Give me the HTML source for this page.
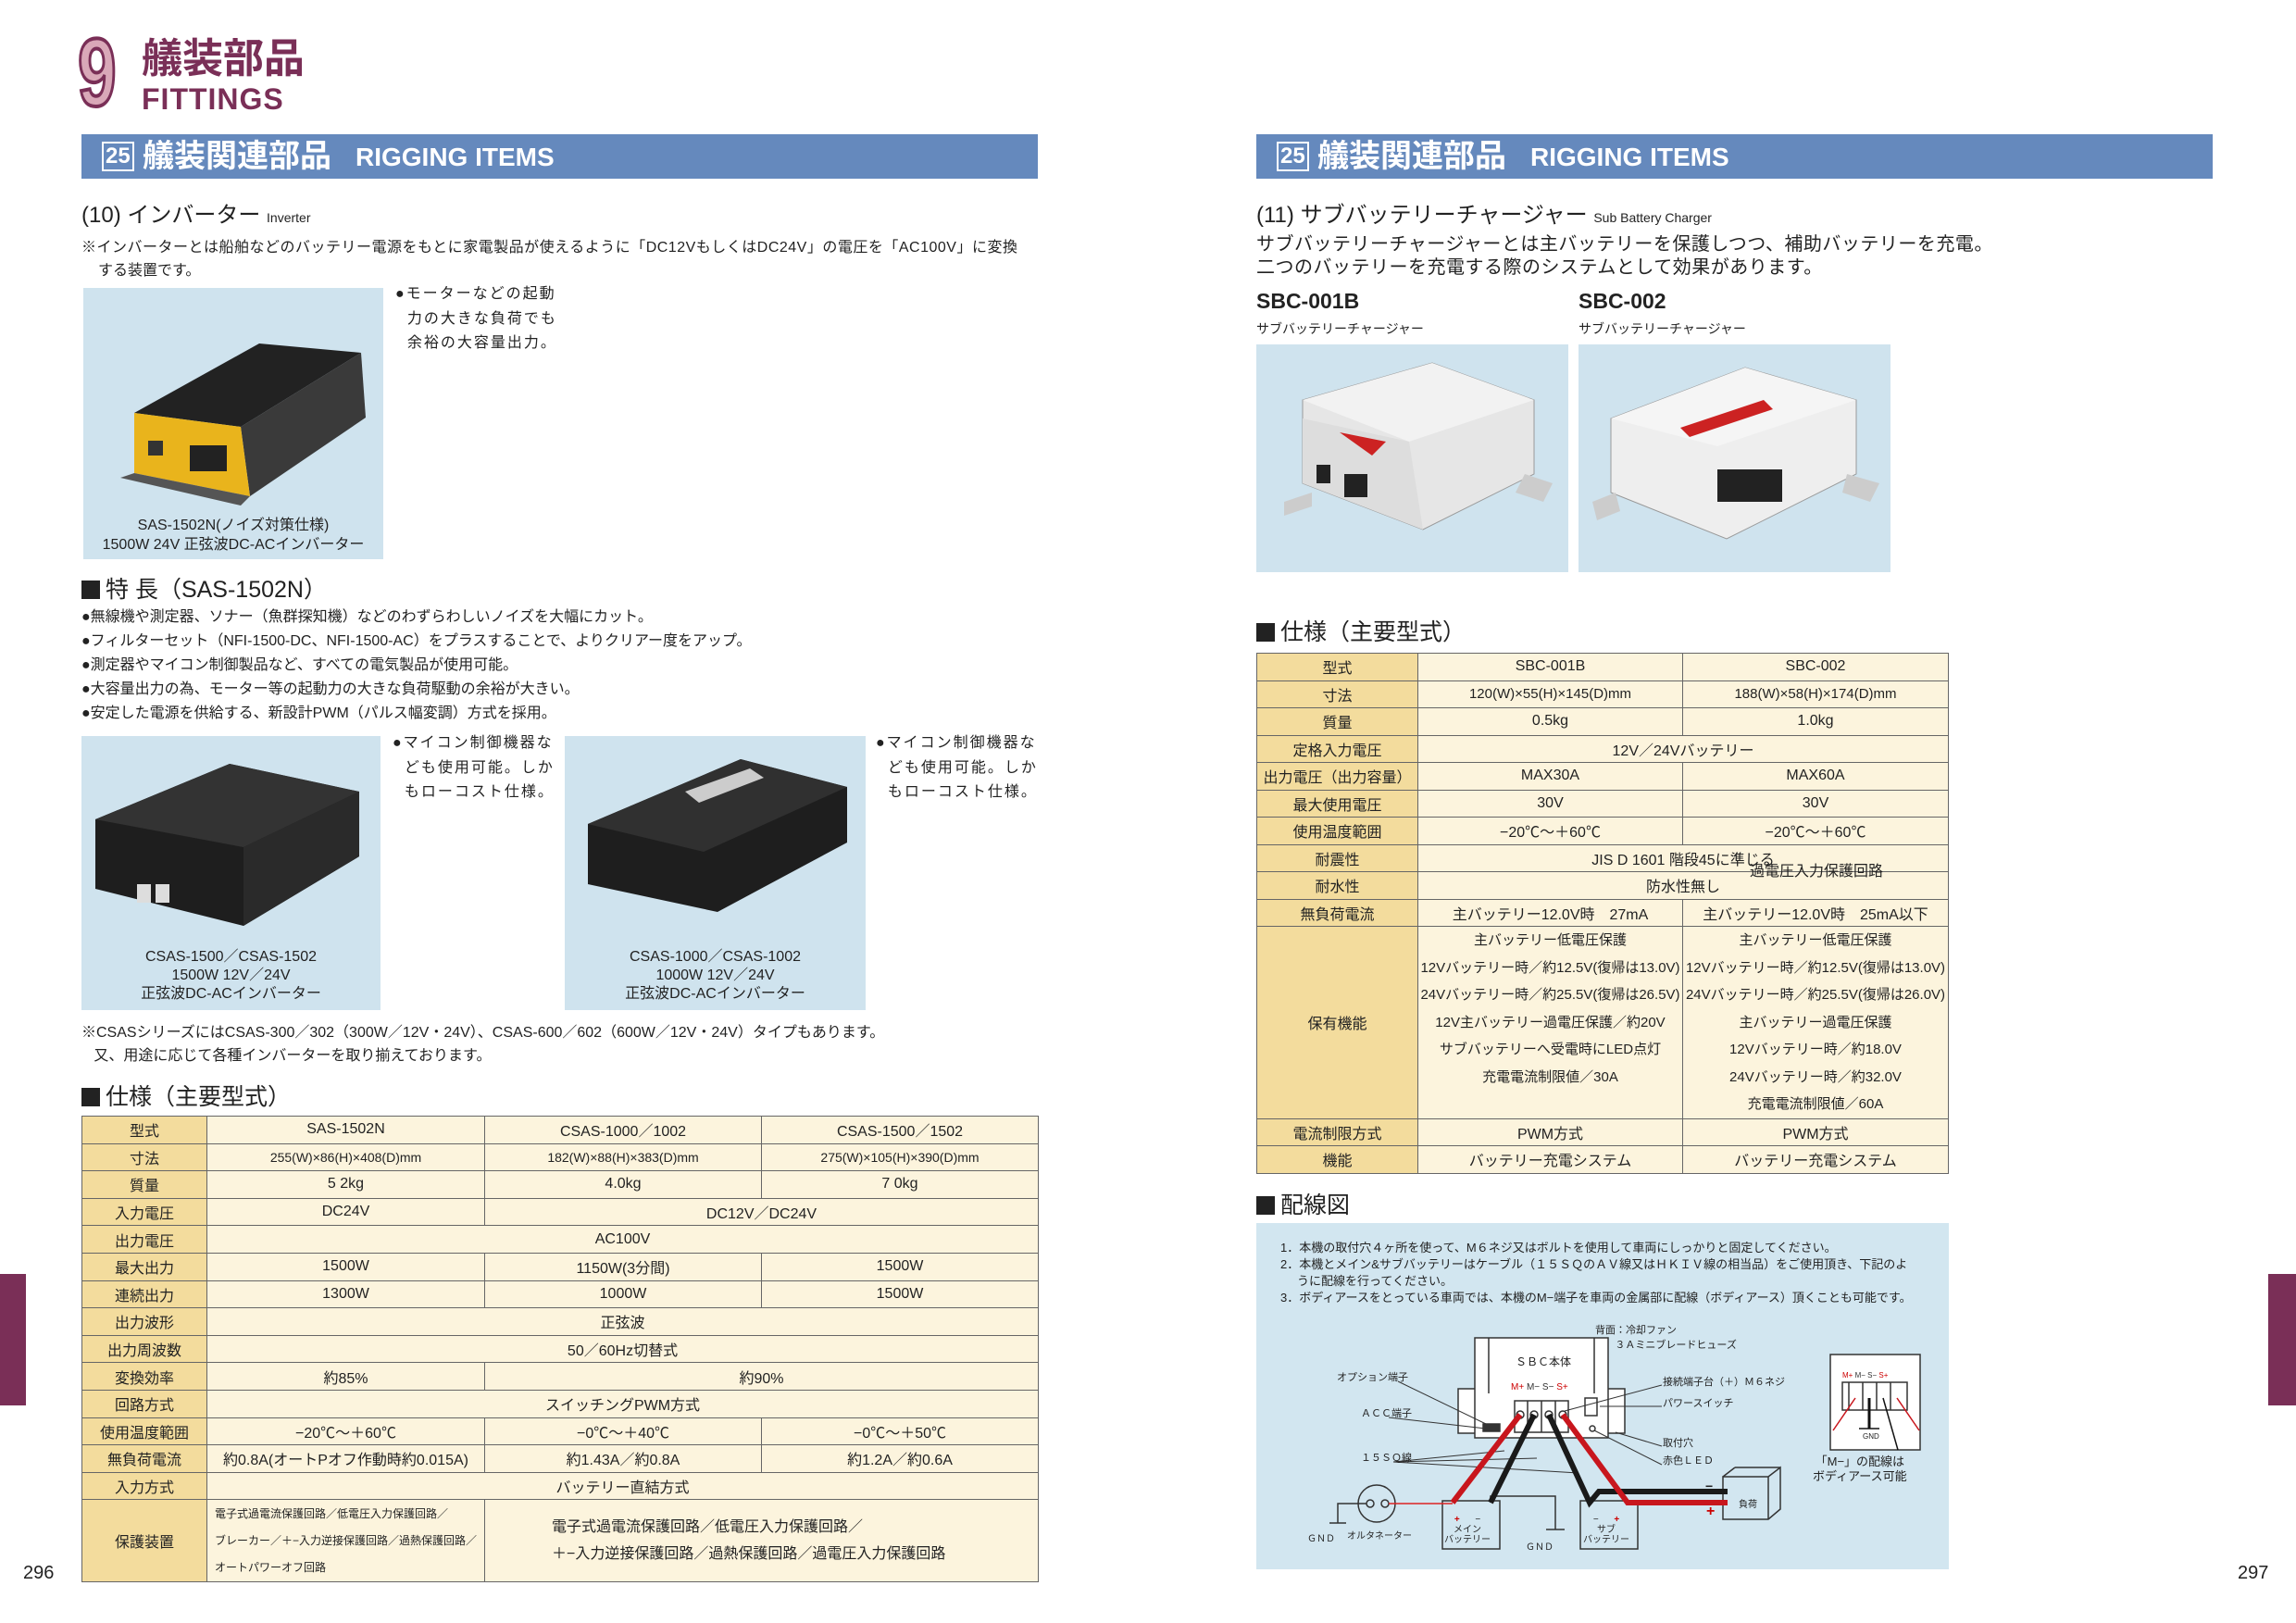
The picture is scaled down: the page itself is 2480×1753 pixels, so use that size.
<!DOCTYPE html>
<html><head><meta charset="utf-8">
<style>
*{margin:0;padding:0;box-sizing:border-box}
body{width:2480px;height:1753px;background:#fff;position:relative;overflow:hidden;font-family:"Liberation Sans","Noto Sans CJK JP",sans-serif;color:#222}
.a{position:absolute;white-space:nowrap}
.bar{position:absolute;top:145px;height:48px;background:#6589bd;color:#fff;font-weight:bold}
.bar .n{position:absolute;left:22px;top:8px;border:2px solid #fff;font-size:24px;line-height:28px;padding:0 2px}
.bar .t{position:absolute;left:66px;top:2px;font-size:34px;line-height:44px}
.bar .e{position:absolute;left:296px;top:6px;font-size:28px;line-height:38px}
.img{position:absolute;background:#cfe3ee}
table{position:absolute;border-collapse:collapse;table-layout:fixed}
td{border:1px solid #666;background:#fcf4dd;text-align:center;font-size:16px;padding:0;overflow:hidden;white-space:nowrap}
td.h{background:#f3dc9d}
.sq{display:inline-block;width:20px;height:20px;background:#222;margin-right:6px;vertical-align:-2px}
</style></head><body>

<div class="a" style="left:84px;top:24px;font-size:104px;font-weight:bold;color:#d9a8b8;-webkit-text-stroke:4px #7a2f57;line-height:110px;transform:scaleX(0.72);transform-origin:left">9</div>
<div class="a" style="left:153px;top:38px;font-size:44px;font-weight:bold;color:#7a2f57;line-height:52px">艤装部品</div>
<div class="a" style="left:153px;top:88px;font-size:32px;font-weight:bold;color:#7a2f57;line-height:38px;letter-spacing:1px">FITTINGS</div>

<div class="bar" style="left:88px;width:1033px"><span class="n">25</span><span class="t">艤装関連部品</span><span class="e">RIGGING ITEMS</span></div>
<div class="bar" style="left:1357px;width:1033px"><span class="n">25</span><span class="t">艤装関連部品</span><span class="e">RIGGING ITEMS</span></div>

<div class="a" style="left:88px;top:218px;font-size:24px;line-height:30px">(10) インバーター <span style="font-size:14px">Inverter</span></div>
<div class="a" style="left:88px;top:256px;font-size:16px;line-height:24px;letter-spacing:0.5px">※インバーターとは船舶などのバッテリー電源をもとに家電製品が使えるように「DC12VもしくはDC24V」の電圧を「AC100V」に変換</div>
<div class="a" style="left:106px;top:281px;font-size:16px;line-height:24px">する装置です。</div>

<div class="img" style="left:90px;top:311px;width:324px;height:293px">
<svg width="324" height="293" style="position:absolute;left:0;top:0">
<polygon points="55,135 190,60 300,70 170,150" fill="#222"/>
<polygon points="300,70 305,140 180,225 170,150" fill="#3a3a3a"/>
<polygon points="55,135 170,150 180,225 55,200" fill="#e9b41c"/>
<rect x="70" y="165" width="16" height="16" fill="#333"/><rect x="115" y="170" width="40" height="28" fill="#222"/>
<polygon points="40,205 55,200 180,225 170,235" fill="#555"/>
</svg>
<div class="a" style="left:0;width:324px;text-align:center;top:246px;font-size:16px;line-height:21px">SAS-1502N(ノイズ対策仕様)<br>1500W 24V 正弦波DC-ACインバーター</div>
</div>
<div class="a" style="left:427px;top:305px;font-size:16px;line-height:26.5px;letter-spacing:2px">●モーターなどの起動<br>&nbsp;&nbsp;力の大きな負荷でも<br>&nbsp;&nbsp;余裕の大容量出力。</div>

<div class="a" style="left:88px;top:621px;font-size:25px;line-height:32px"><span class="sq"></span>特 長（SAS-1502N）</div>
<div class="a" style="left:88px;top:654px;font-size:16px;line-height:26px">●無線機や測定器、ソナー（魚群探知機）などのわずらわしいノイズを大幅にカット。<br>●フィルターセット（NFI-1500-DC、NFI-1500-AC）をプラスすることで、よりクリアー度をアップ。<br>●測定器やマイコン制御製品など、すべての電気製品が使用可能。<br>●大容量出力の為、モーター等の起動力の大きな負荷駆動の余裕が大きい。<br>●安定した電源を供給する、新設計PWM（パルス幅変調）方式を採用。</div>

<div class="img" style="left:88px;top:795px;width:323px;height:296px">
<svg width="323" height="296" style="position:absolute;left:0;top:0">
<polygon points="15,90 160,30 300,60 300,130 175,205 15,165" fill="#1e1e1e"/>
<polygon points="15,90 160,30 300,60 175,120" fill="#333"/>
<polygon points="175,120 300,60 300,130 175,205" fill="#2a2a2a"/>
<rect x="60" y="160" width="15" height="20" fill="#ddd"/><rect x="80" y="160" width="15" height="20" fill="#ddd"/>
</svg>
<div class="a" style="left:0;width:323px;text-align:center;top:229px;font-size:16px;line-height:20px">CSAS-1500／CSAS-1502<br>1500W 12V／24V<br>正弦波DC-ACインバーター</div>
</div>
<div class="a" style="left:424px;top:790px;font-size:16px;line-height:26.5px;letter-spacing:2px">●マイコン制御機器な<br>&nbsp;&nbsp;ども使用可能。しか<br>&nbsp;&nbsp;もローコスト仕様。</div>

<div class="img" style="left:610px;top:795px;width:325px;height:296px">
<svg width="325" height="296" style="position:absolute;left:0;top:0">
<polygon points="25,95 190,25 305,55 305,115 165,190 25,160" fill="#1e1e1e"/>
<polygon points="25,95 190,25 305,55 150,125" fill="#303030"/>
<polygon points="130,60 200,35 215,45 145,72" fill="#ccc"/>
</svg>
<div class="a" style="left:0;width:325px;text-align:center;top:229px;font-size:16px;line-height:20px">CSAS-1000／CSAS-1002<br>1000W 12V／24V<br>正弦波DC-ACインバーター</div>
</div>
<div class="a" style="left:946px;top:790px;font-size:16px;line-height:26.5px;letter-spacing:2px">●マイコン制御機器な<br>&nbsp;&nbsp;ども使用可能。しか<br>&nbsp;&nbsp;もローコスト仕様。</div>

<div class="a" style="left:88px;top:1103px;font-size:16px;line-height:25px">※CSASシリーズにはCSAS-300／302（300W／12V・24V）、CSAS-600／602（600W／12V・24V）タイプもあります。<br>&nbsp;&nbsp;&nbsp;又、用途に応じて各種インバーターを取り揃えております。</div>

<div class="a" style="left:88px;top:1169px;font-size:25px;line-height:32px"><span class="sq"></span>仕様（主要型式）</div>

<table style="left:88px;top:1205px;width:1033px">
<colgroup><col style="width:135px"><col style="width:300px"><col style="width:299px"><col style="width:299px"></colgroup>
<tr style="height:29.6px"><td class="h">型式</td><td>SAS-1502N</td><td>CSAS-1000／1002</td><td>CSAS-1500／1502</td></tr>
<tr style="height:29.6px"><td class="h">寸法</td><td style="font-size:14px">255(W)×86(H)×408(D)mm</td><td style="font-size:14px">182(W)×88(H)×383(D)mm</td><td style="font-size:14px">275(W)×105(H)×390(D)mm</td></tr>
<tr style="height:29.6px"><td class="h">質量</td><td>5 2kg</td><td>4.0kg</td><td>7 0kg</td></tr>
<tr style="height:29.6px"><td class="h">入力電圧</td><td>DC24V</td><td colspan="2">DC12V／DC24V</td></tr>
<tr style="height:29.6px"><td class="h">出力電圧</td><td colspan="3">AC100V</td></tr>
<tr style="height:29.6px"><td class="h">最大出力</td><td>1500W</td><td>1150W(3分間)</td><td>1500W</td></tr>
<tr style="height:29.6px"><td class="h">連続出力</td><td>1300W</td><td>1000W</td><td>1500W</td></tr>
<tr style="height:29.6px"><td class="h">出力波形</td><td colspan="3">正弦波</td></tr>
<tr style="height:29.6px"><td class="h">出力周波数</td><td colspan="3">50／60Hz切替式</td></tr>
<tr style="height:29.6px"><td class="h">変換効率</td><td>約85%</td><td colspan="2">約90%</td></tr>
<tr style="height:29.6px"><td class="h">回路方式</td><td colspan="3">スイッチングPWM方式</td></tr>
<tr style="height:29.6px"><td class="h">使用温度範囲</td><td>−20℃～＋60℃</td><td>−0℃～＋40℃</td><td>−0℃～＋50℃</td></tr>
<tr style="height:29.6px"><td class="h">無負荷電流</td><td>約0.8A(オートPオフ作動時約0.015A)</td><td>約1.43A／約0.8A</td><td>約1.2A／約0.6A</td></tr>
<tr style="height:29.6px"><td class="h">入力方式</td><td colspan="3">バッテリー直結方式</td></tr>
<tr style="height:89px"><td class="h">保護装置</td><td style="text-align:left;font-size:12px;line-height:29px;padding-left:8px">電子式過電流保護回路／低電圧入力保護回路／<br>ブレーカー／＋−入力逆接保護回路／過熱保護回路／<br>オートパワーオフ回路</td><td colspan="2" style="text-align:left;font-size:16px;line-height:29px;padding-left:72px">電子式過電流保護回路／低電圧入力保護回路／<br>＋−入力逆接保護回路／過熱保護回路／過電圧入力保護回路</td></tr>
</table>

<div style="position:absolute;left:0;top:1376px;width:28px;height:142px;background:#7a2f57"></div>
<div class="a" style="left:25px;top:1688px;font-size:20px">296</div>

<div class="a" style="left:1357px;top:218px;font-size:24px;line-height:30px">(11) サブバッテリーチャージャー <span style="font-size:14px">Sub Battery Charger</span></div>
<div class="a" style="left:1357px;top:252px;font-size:20px;line-height:25px;letter-spacing:0.5px">サブバッテリーチャージャーとは主バッテリーを保護しつつ、補助バッテリーを充電。<br>二つのバッテリーを充電する際のシステムとして効果があります。</div>
<div class="a" style="left:1357px;top:312px;font-size:23px;font-weight:bold">SBC-001B</div>
<div class="a" style="left:1705px;top:312px;font-size:23px;font-weight:bold">SBC-002</div>
<div class="a" style="left:1357px;top:345px;font-size:14px">サブバッテリーチャージャー</div>
<div class="a" style="left:1705px;top:345px;font-size:14px">サブバッテリーチャージャー</div>

<div class="img" style="left:1357px;top:372px;width:337px;height:246px">
<svg width="337" height="246"><polygon points="50,60 190,20 300,60 300,140 180,200 50,150" fill="#e6e6e6" stroke="#999"/>
<polygon points="50,60 190,20 300,60 165,105" fill="#f2f2f2"/><polygon points="50,80 165,105 180,200 50,150" fill="#ddd"/>
<polygon points="90,95 140,105 125,120" fill="#c22"/><rect x="65" y="130" width="15" height="20" fill="#222"/><rect x="95" y="140" width="25" height="25" fill="#222"/>
<polygon points="30,170 60,160 60,175 30,185" fill="#ccc"/><polygon points="290,140 320,150 310,170 280,160" fill="#ccc"/></svg></div>
<div class="img" style="left:1705px;top:372px;width:337px;height:246px">
<svg width="337" height="246"><polygon points="35,80 180,25 300,60 300,140 160,210 35,160" fill="#eee" stroke="#999"/>
<polygon points="35,80 180,25 300,60 150,110" fill="#f5f5f5"/><polygon points="110,90 200,60 210,70 120,100" fill="#c22"/>
<rect x="150" y="135" width="70" height="35" fill="#222"/><polygon points="15,170 40,160 45,180 20,190" fill="#ccc"/><polygon points="290,140 325,150 315,170 285,160" fill="#ccc"/></svg></div>

<div class="a" style="left:1357px;top:667px;font-size:25px;line-height:32px"><span class="sq"></span>仕様（主要型式）</div>

<table style="left:1357px;top:705px;width:747px">
<colgroup><col style="width:174px"><col style="width:286px"><col style="width:287px"></colgroup>
<tr style="height:29.5px"><td class="h">型式</td><td>SBC-001B</td><td>SBC-002</td></tr>
<tr style="height:29.5px"><td class="h">寸法</td><td style="font-size:15px">120(W)×55(H)×145(D)mm</td><td style="font-size:15px">188(W)×58(H)×174(D)mm</td></tr>
<tr style="height:29.5px"><td class="h">質量</td><td>0.5kg</td><td>1.0kg</td></tr>
<tr style="height:29.5px"><td class="h">定格入力電圧</td><td colspan="2">12V／24Vバッテリー</td></tr>
<tr style="height:29.5px"><td class="h">出力電圧（出力容量）</td><td>MAX30A</td><td>MAX60A</td></tr>
<tr style="height:29.5px"><td class="h">最大使用電圧</td><td>30V</td><td>30V</td></tr>
<tr style="height:29.5px"><td class="h">使用温度範囲</td><td>−20℃～＋60℃</td><td>−20℃～＋60℃</td></tr>
<tr style="height:29.5px"><td class="h">耐震性</td><td colspan="2">JIS D 1601 階段45に準じる</td></tr>
<tr style="height:29.5px"><td class="h">耐水性</td><td colspan="2">防水性無し</td></tr>
<tr style="height:29.5px"><td class="h">無負荷電流</td><td>主バッテリー12.0V時　27mA</td><td>主バッテリー12.0V時　25mA以下</td></tr>
<tr style="height:207px"><td class="h">保有機能</td><td style="vertical-align:top;font-size:15px;line-height:29.5px">主バッテリー低電圧保護<br>12Vバッテリー時／約12.5V(復帰は13.0V)<br>24Vバッテリー時／約25.5V(復帰は26.5V)<br>12V主バッテリー過電圧保護／約20V<br>サブバッテリーへ受電時にLED点灯<br>充電電流制限値／30A</td><td style="vertical-align:top;font-size:15px;line-height:29.5px">主バッテリー低電圧保護<br>12Vバッテリー時／約12.5V(復帰は13.0V)<br>24Vバッテリー時／約25.5V(復帰は26.0V)<br>主バッテリー過電圧保護<br>12Vバッテリー時／約18.0V<br>24Vバッテリー時／約32.0V<br>充電電流制限値／60A</td></tr>
<tr style="height:29.5px"><td class="h">電流制限方式</td><td>PWM方式</td><td>PWM方式</td></tr>
<tr style="height:29.5px"><td class="h">機能</td><td>バッテリー充電システム</td><td>バッテリー充電システム</td></tr>
</table>
<div class="a" style="left:1890px;top:927px;font-size:16px">過電圧入力保護回路</div>

<div class="a" style="left:1357px;top:1286px;font-size:25px;line-height:32px"><span class="sq"></span>配線図</div>

<div style="position:absolute;left:1357px;top:1321px;width:748px;height:374px;background:#d2e6f0"></div>
<div class="a" style="left:1383px;top:1339px;font-size:13px;line-height:18px">1．本機の取付穴４ヶ所を使って、M６ネジ又はボルトを使用して車両にしっかりと固定してください。<br>2．本機とメイン&amp;サブバッテリーはケーブル（１５ＳＱのＡＶ線又はＨＫＩＶ線の相当品）をご使用頂き、下記のよ<br>&nbsp;&nbsp;&nbsp;&nbsp;&nbsp;うに配線を行ってください。<br>3．ボディアースをとっている車両では、本機のM−端子を車両の金属部に配線（ボディアース）頂くことも可能です。</div>

<svg style="position:absolute;left:0;top:0" width="2480" height="1753">
<g fill="none" stroke="#333" stroke-width="1.5">
<rect x="1575" y="1500" width="180" height="48" fill="#fff"/>
<rect x="1593" y="1445" width="144" height="108" fill="#fff"/>
<line x1="1608" y1="1445" x2="1608" y2="1505"/><line x1="1722" y1="1445" x2="1722" y2="1505"/>
<rect x="1636" y="1513" width="58" height="34" fill="#fff"/>
<line x1="1650" y1="1513" x2="1650" y2="1547"/><line x1="1665" y1="1513" x2="1665" y2="1547"/><line x1="1680" y1="1513" x2="1680" y2="1547"/>
<circle cx="1642" cy="1528" r="4"/><circle cx="1657" cy="1528" r="4"/><circle cx="1673" cy="1528" r="4"/><circle cx="1688" cy="1528" r="4"/>
<rect x="1712" y="1510" width="13" height="19"/><circle cx="1720" cy="1543" r="3"/>
<rect x="1602" y="1538" width="18" height="8" fill="#333"/>
<g stroke-width="1">
<line x1="1510" y1="1492" x2="1605" y2="1538"/><line x1="1500" y1="1531" x2="1605" y2="1543"/>
<line x1="1795" y1="1496" x2="1690" y2="1524"/><line x1="1795" y1="1519" x2="1728" y2="1519"/>
<line x1="1795" y1="1562" x2="1745" y2="1547"/><line x1="1795" y1="1582" x2="1722" y2="1545"/>
<line x1="1505" y1="1579" x2="1625" y2="1567"/><line x1="1505" y1="1579" x2="1660" y2="1575"/><line x1="1505" y1="1579" x2="1705" y2="1591"/>
</g>
<rect x="1558" y="1621" width="62" height="52" fill="#d2e6f0"/>
<rect x="1707" y="1621" width="62" height="52" fill="#d2e6f0"/>
<polygon points="1861,1595 1910,1595 1923,1585 1923,1630 1910,1641 1861,1641" fill="#d2e6f0"/>
<line x1="1861" y1="1595" x2="1874" y2="1585"/><line x1="1874" y1="1585" x2="1923" y2="1585"/><line x1="1910" y1="1595" x2="1910" y2="1641"/>
<circle cx="1487" cy="1624" r="20"/>
<circle cx="1480" cy="1624" r="4"/><circle cx="1496" cy="1624" r="4"/>
<polyline points="1476,1624 1445,1624 1445,1645"/>
<line x1="1436" y1="1645" x2="1454" y2="1645"/>
<polyline points="1610,1623 1610,1616 1680,1616 1680,1652"/>
<line x1="1670" y1="1652" x2="1690" y2="1652"/>
</g>
<line x1="1500" y1="1624" x2="1569" y2="1624" stroke="#d22" stroke-width="1.5"/>
<polyline points="1642,1528 1569,1623" fill="none" stroke="#c8161d" stroke-width="6"/>
<polyline points="1657,1528 1610,1623" fill="none" stroke="#1a1a1a" stroke-width="6"/>
<polyline points="1673,1528 1717,1623 1727,1611 1866,1611" fill="none" stroke="#1a1a1a" stroke-width="6"/>
<polyline points="1688,1528 1758,1623 1866,1623" fill="none" stroke="#c8161d" stroke-width="6"/>
<g fill="none" stroke="#333" stroke-width="1.5">
<rect x="1977" y="1463" width="97" height="103" fill="#fff"/>
<rect x="1990" y="1493" width="70" height="30"/>
<line x1="1997" y1="1493" x2="1997" y2="1523"/><line x1="2012" y1="1493" x2="2012" y2="1523"/><line x1="2027" y1="1493" x2="2027" y2="1523"/><line x1="2042" y1="1493" x2="2042" y2="1523"/>
</g>
<line x1="2004" y1="1510" x2="1980" y2="1545" stroke="#c8161d" stroke-width="1.5"/>
<line x1="2049" y1="1510" x2="2073" y2="1545" stroke="#c8161d" stroke-width="1.5"/>
<line x1="2019" y1="1510" x2="2019" y2="1543" stroke="#111" stroke-width="3"/>
<line x1="2034" y1="1510" x2="2050" y2="1566" stroke="#111" stroke-width="1.5"/>
<line x1="2008" y1="1543" x2="2030" y2="1543" stroke="#111" stroke-width="1.5"/>
</svg>
<div class="a" style="left:1637px;top:1462px;font-size:12px">ＳＢＣ本体</div>
<div class="a" style="left:1632px;top:1493px;font-size:10px;color:#c00">M+ <span style="color:#333">M− S−</span> S+</div>
<div class="a" style="left:1723px;top:1428px;font-size:11px">背面：冷却ファン<br>&nbsp;&nbsp;&nbsp;&nbsp;&nbsp;&nbsp;&nbsp;３Ａミニブレードヒューズ</div>
<div class="a" style="left:1444px;top:1479px;font-size:11px">オプション端子</div>
<div class="a" style="left:1470px;top:1518px;font-size:11px">ＡＣＣ端子</div>
<div class="a" style="left:1470px;top:1566px;font-size:11px">１５ＳＱ線</div>
<div class="a" style="left:1796px;top:1484px;font-size:11px">接続端子台（＋）Ｍ６ネジ</div>
<div class="a" style="left:1796px;top:1507px;font-size:11px">パワースイッチ</div>
<div class="a" style="left:1796px;top:1550px;font-size:11px">取付穴</div>
<div class="a" style="left:1796px;top:1569px;font-size:11px">赤色ＬＥＤ</div>
<div class="a" style="left:1412px;top:1653px;font-size:10px">ＧＮＤ</div>
<div class="a" style="left:1455px;top:1650px;font-size:10px">オルタネーター</div>
<div class="a" style="left:1648px;top:1662px;font-size:10px">ＧＮＤ</div>
<div class="a" style="left:1560px;top:1636px;font-size:10px;line-height:11px;text-align:center"><span style="color:#c00;font-weight:bold">+</span>&nbsp;&nbsp;&nbsp;&nbsp;&nbsp;&nbsp;−<br>メイン<br>バッテリー</div>
<div class="a" style="left:1710px;top:1636px;font-size:10px;line-height:11px;text-align:center">−&nbsp;&nbsp;&nbsp;&nbsp;&nbsp;&nbsp;<span style="color:#c00;font-weight:bold">+</span><br>サブ<br>バッテリー</div>
<div class="a" style="left:1878px;top:1616px;font-size:10px">負荷</div>
<div class="a" style="left:1842px;top:1597px;font-size:14px;font-weight:bold">−</div>
<div class="a" style="left:1843px;top:1624px;font-size:16px;font-weight:bold;color:#c00">+</div>
<div class="a" style="left:1990px;top:1481px;font-size:8px;color:#c00">M+ <span style="color:#333">M− S−</span> S+</div>
<div class="a" style="left:2012px;top:1547px;font-size:8px">GND</div>
<div class="a" style="left:1958px;top:1571px;font-size:13px;line-height:16px;text-align:center">「M−」の配線は<br>ボディアース可能</div>

<div style="position:absolute;left:2450px;top:1376px;width:30px;height:142px;background:#7a2f57"></div>
<div class="a" style="left:2417px;top:1688px;font-size:20px">297</div>
</body></html>
